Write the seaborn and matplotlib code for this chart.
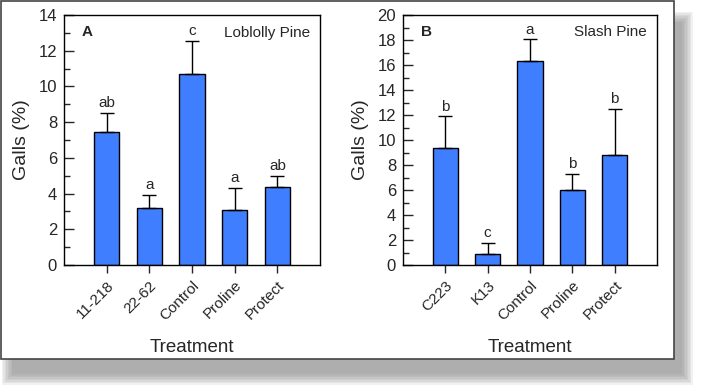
import seaborn as sns
import matplotlib.pyplot as plt
from matplotlib.patches import Rectangle
from matplotlib.ticker import MultipleLocator
import pandas as pd

# Panel A - Loblolly pine
cats_a = ["11-218", "22-62", "Control", "Proline", "Protect"]
galls_a = [7.45, 3.2, 10.7, 3.1, 4.35]
se_a = [1.05, 0.7, 1.85, 1.2, 0.65]
letters_a = ["ab", "a", "c", "a", "ab"]

# Panel B - Slash pine
cats_b = ["C223", "K13", "Control", "Proline", "Protect"]
galls_b = [9.4, 0.9, 16.3, 6.0, 8.8]
se_b = [2.5, 0.9, 1.75, 1.3, 3.7]
letters_b = ["b", "c", "a", "b", "b"]

sns.set_style("ticks")
plt.rcParams['font.family'] = ['Liberation Sans', 'DejaVu Sans']

W, H = 701, 386
fig = plt.figure(figsize=(W / 100, H / 100), dpi=100)

# soft drop shadow: stacked translucent grey rectangles
for k in range(8):
    grow = k * 1.5
    fig.patches.append(Rectangle(((12 - grow) / W, 1 - (374 + grow) / H),
                                 (670 + 2 * grow) / W, (352 + 2 * grow) / H,
                                 transform=fig.transFigure, facecolor="#777777",
                                 edgecolor="none", alpha=0.1, zorder=-20))
# outer frame
fig.patches.append(Rectangle((1 / W, 1 - 359 / H), 673 / W, 358 / H,
                             transform=fig.transFigure, facecolor="white",
                             edgecolor="#444444", linewidth=1.2, zorder=-10))

ax_a = fig.add_axes([64 / W, 1 - 265 / H, 256 / W, 250 / H])
ax_b = fig.add_axes([403 / W, 1 - 265 / H, 254 / W, 250 / H])

panels = [
    (ax_a, cats_a, galls_a, se_a, letters_a, 14, 2, "A", "Loblolly Pine", 0.55),
    (ax_b, cats_b, galls_b, se_b, letters_b, 20, 2, "B", "Slash Pine", 0.7),
]

for ax, cats, vals, errs, letters, ymax, step, tag, title, pad in panels:
    ax.set_facecolor("white")
    df = pd.DataFrame({"Treatment": cats, "Galls": vals})
    sns.barplot(data=df, x="Treatment", y="Galls", ax=ax, color="#3f7fff",
                saturation=1, width=0.6, edgecolor="black", linewidth=1.0)
    ax.errorbar(range(len(cats)), vals, yerr=[[0] * len(errs), errs], fmt="none",
                ecolor="black", elinewidth=1.0, capsize=5, capthick=1.0)
    for i, (v, e, l) in enumerate(zip(vals, errs, letters)):
        ax.text(i, v + e + pad * 0.3, l, ha="center", va="bottom", fontsize=11)
    ax.set_xlim(-1, len(cats))
    ax.set_ylim(0, ymax)
    ax.yaxis.set_major_locator(MultipleLocator(step))
    ax.yaxis.set_minor_locator(MultipleLocator(step / 2))
    ax.tick_params(axis="y", which="major", direction="in", length=7, width=1, labelsize=12, pad=5)
    ax.tick_params(axis="y", which="minor", direction="in", length=4, width=1)
    ax.tick_params(axis="x", direction="out", length=6, width=1, labelsize=11)
    plt.setp(ax.get_xticklabels(), rotation=45, ha="right", rotation_mode="anchor")
    for s in ax.spines.values():
        s.set_linewidth(1.0)
        s.set_color("black")
    ax.set_xlabel("Treatment", fontsize=13.5, labelpad=12)
    ax.set_ylabel("Galls (%)", fontsize=14, labelpad=6)
    ax.text(0.07, 0.93, tag, transform=ax.transAxes, fontsize=11, fontweight="bold", va="center")
    ax.text(0.96, 0.93, title, transform=ax.transAxes, fontsize=11, ha="right", va="center")

fig.savefig("out.png", dpi=100)
